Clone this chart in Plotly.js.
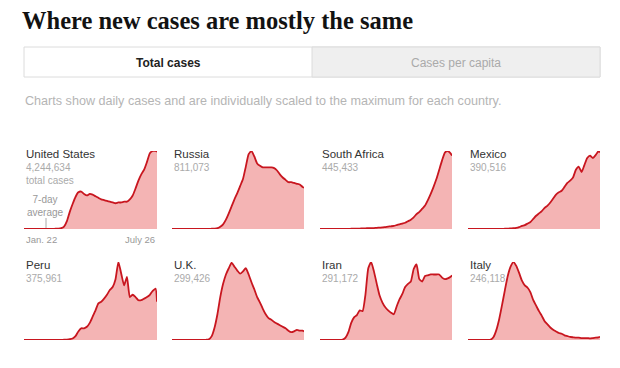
<!DOCTYPE html>
<html><head><meta charset="utf-8">
<script src="https://cdn.plot.ly/plotly-3.0.1.min.js"></script>
<style>html,body{margin:0;padding:0;background:#fff;}#chart{width:620px;height:368px;}</style>
</head><body><div id="chart"></div>
<script>
// Day index from Jan. 22 (0) to July 26 (186); values = % of each country's max 7-day average
const days = [0,4,8,12,16,20,24,28,32,36,40,44,48,52,56,60,64,68,72,76,80,84,88,92,96,100,104,108,112,116,120,124,128,132,136,140,144,148,152,156,160,164,168,172,176,180,184,186];
const countries = ["United States","Russia","South Africa","Mexico","Peru","U.K.","Iran","Italy"];
const totals = ["4,244,634","811,073","445,433","390,516","375,961","299,426","291,172","246,118"];
const usVals = [0,0,0,0,0,0,0,0,0,0,0, 0.3,0.5,1,3,10,22,32,41,47,48, 45,43,45,44,42,40,38,37,36,35, 34,33,34,34,35,35,38,43,52,62, 70,76,86,97,100,100, 99];
const russiaVals = [0,0,0,0,0,0,0,0,0,0,0,0,0,0, 0.3,0.5,1,3,6,12,20,29,38,46, 55,64,80,96,100,93,84,81,79,79, 79,79,78,75,70,66,63,60,60,59, 58,57,54, 53];
const southAfricaVals = [0,0,0,0,0,0,0,0,0,0,0, 0.3,0.4,0.5,0.6,0.8,0.9,1,1,1.2,1.5, 1.8,2,2.5,3,3.5,4,5,6,7,8, 10,12,15,19,22,26,30,37,45,54, 64,76,88,98,100,97, 94];
const mexicoVals = [0,0,0,0,0,0,0,0,0,0,0,0,0, 0.3,0.4,0.7,1,1.5,2.5,4,5,7,9, 13,17,20,23,27,30,34,39,44,47, 49,54,59,62,66,76,80,73,82,91, 94,91,95,100, 98];
const peruVals = [0,0,0,0,0,0,0,0,0,0,0,0,0,0, 0.3,0.5,1,2,5,11,15,15,17,22, 30,38,47,49,53,58,64,68,78,100, 85,70,81,55,58,55,51,51,53,55, 58,63,66, 49];
const ukVals = [0,0,0,0,0,0,0,0,0,0,0,0, 0.3,1,5,16,33,55,72,84,92,99, 94,89,85,88,92,84,74,65,55,48, 40,33,28,26,23,21,19,17,15,12, 10,11,13,12,12, 11];
const iranVals = [0,0,0,0,0,0,0,0, 0.5,3,10,22,29,32,38,37,58,92, 100,88,72,57,48,42,38,35,33,43, 52,59,68,72,75,91,97,78,75,82, 83,84,84,84,84,80,78,79,81, 83];
const italyVals = [0,0,0,0,0,0,0,0, 0.5,4,13,27,45,64,82,94,100,95, 86,76,70,67,61,51,44,37,31,24, 20,16,13,11,9,8,6,5,4,3.5, 3,3,2.5,2.5,2.5,2,2.5,3,3.5, 4];
const series = [usVals, russiaVals, southAfricaVals, mexicoVals, peruVals, ukVals, iranVals, italyVals];
const startLabel = "Jan. 22", endLabel = "July 26";

const W = 620, H = 368;
const colX = [[24,157],[172,304],[320,452],[468,600]];
const rowY = [[151,229],[262,340]];
const px = x => x / W, py = y => 1 - y / H;
const sans = "Liberation Sans, Arial, sans-serif";

const data = [], layout = {
  width: W, height: H, margin: {l:0,r:0,t:0,b:0},
  paper_bgcolor: "#fff", plot_bgcolor: "rgba(0,0,0,0)", showlegend: false,
  annotations: [], shapes: []
};
series.forEach((vals, i) => {
  const c = i % 4, r = Math.floor(i / 4);
  const k = i === 0 ? "" : String(i + 1);
  data.push({
    type: "scatter", mode: "lines", x: days, y: vals,
    xaxis: "x" + k, yaxis: "y" + k, fill: "tozeroy",
    fillcolor: "rgba(236,130,130,0.6)", line: {color: "#c8161f", width: 1.8, shape: "spline", smoothing: 0.5},
    cliponaxis: false, hoverinfo: "skip"
  });
  layout["xaxis" + k] = {domain: [px(colX[c][0]), px(colX[c][1])], range: [0, 186], visible: false, fixedrange: true};
  layout["yaxis" + k] = {domain: [py(rowY[r][1]), py(rowY[r][0])], range: [0, 100], visible: false, fixedrange: true, anchor: "x" + k};
  layout.annotations.push({xref: "paper", yref: "paper", x: px(colX[c][0]), y: py(rowY[r][0] + 3), xanchor: "left", yanchor: "middle",
    text: countries[i], showarrow: false, font: {family: sans, size: 11.5, color: "#333"}});
  const numText = i === 0 ? totals[i] + "<br>total cases" : totals[i];
  layout.annotations.push({xref: "paper", yref: "paper", x: px(colX[c][0]), y: py(rowY[r][0] + 9), xanchor: "left", yanchor: "top",
    text: numText, align: "left", showarrow: false, font: {family: sans, size: 10, color: "#aaa"}});
});
// US extras
layout.annotations.push({xref:"paper",yref:"paper",x:px(45),y:py(206),xanchor:"center",yanchor:"middle",text:"7-day<br>average",showarrow:false,font:{family:sans,size:10,color:"#999"}});
layout.shapes.push({type:"line",xref:"paper",yref:"paper",x0:px(46),x1:px(46),y0:py(218),y1:py(228),line:{color:"#aaa",width:1}});
layout.annotations.push({xref:"paper",yref:"paper",x:px(24),y:py(239),xanchor:"left",yanchor:"middle",text:startLabel,showarrow:false,font:{family:sans,size:9.5,color:"#999"}});
layout.annotations.push({xref:"paper",yref:"paper",x:px(157),y:py(239),xanchor:"right",yanchor:"middle",text:endLabel,showarrow:false,font:{family:sans,size:9.5,color:"#999"}});
// Title, tabs, subtitle
layout.annotations.push({xref:"paper",yref:"paper",x:px(20),y:py(20),xanchor:"left",yanchor:"middle",text:"<b>Where new cases are mostly the same</b>",showarrow:false,font:{family:"Liberation Serif, Times New Roman, serif",size:24.5,color:"#121212"}});
layout.shapes.push({type:"rect",xref:"paper",yref:"paper",x0:px(24),x1:px(600),y0:py(77),y1:py(47),line:{color:"#dcdcdc",width:1},fillcolor:"#fff"});
layout.shapes.push({type:"rect",xref:"paper",yref:"paper",x0:px(312),x1:px(600),y0:py(77),y1:py(47),line:{color:"#dcdcdc",width:1},fillcolor:"#efefef"});
layout.annotations.push({xref:"paper",yref:"paper",x:px(168),y:py(63),xanchor:"center",yanchor:"middle",text:"<b>Total cases</b>",showarrow:false,font:{family:sans,size:12,color:"#222"}});
layout.annotations.push({xref:"paper",yref:"paper",x:px(456),y:py(63),xanchor:"center",yanchor:"middle",text:"Cases per capita",showarrow:false,font:{family:sans,size:12,color:"#aaa"}});
layout.annotations.push({xref:"paper",yref:"paper",x:px(23),y:py(101),xanchor:"left",yanchor:"middle",text:"Charts show daily cases and are individually scaled to the maximum for each country.",showarrow:false,font:{family:sans,size:12.6,color:"#b5b5b5"}});

Plotly.newPlot("chart", data, layout, {staticPlot: true, displayModeBar: false});
</script></body></html>
